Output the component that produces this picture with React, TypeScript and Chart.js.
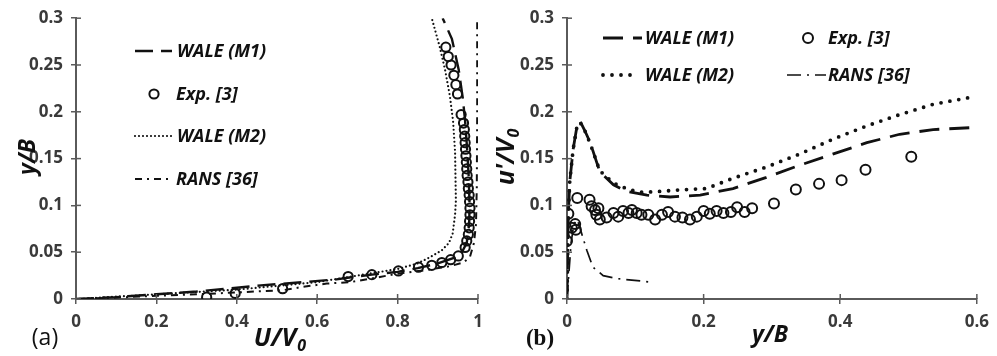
import React, { useEffect, useRef } from 'react';
import { Chart, registerables } from 'chart.js';
Chart.register(...registerables);

// ---------- Panel (a): U/V0 vs y/B ----------
const aXTicks = [0, 0.2, 0.4, 0.6, 0.8, 1];
const aXTickLabels = ['0', '0.2', '0.4', '0.6', '0.8', '1'];
const aYTicks = [0, 0.05, 0.1, 0.15, 0.2, 0.25, 0.3];
const aYTickLabels = ['0', '0.05', '0.1', '0.15', '0.2', '0.25', '0.3'];

const aM1U = [0, 0.1, 0.2, 0.3, 0.4, 0.46, 0.565, 0.648, 0.68, 0.736, 0.8, 0.85, 0.9, 0.94, 0.96, 0.972, 0.978, 0.979, 0.977, 0.973, 0.968, 0.962, 0.952, 0.935, 0.912];
const aM1Y = [0, 0.002, 0.005, 0.008, 0.012, 0.0145, 0.018, 0.021, 0.023, 0.026, 0.029, 0.033, 0.038, 0.044, 0.05, 0.06, 0.08, 0.1, 0.13, 0.16, 0.19, 0.215, 0.245, 0.278, 0.3];

const aExpU = [0.325, 0.396, 0.514, 0.677, 0.736, 0.802, 0.852, 0.885, 0.91, 0.932, 0.951, 0.968, 0.972, 0.976, 0.978, 0.979, 0.98, 0.98, 0.979, 0.978, 0.976, 0.975, 0.973, 0.972, 0.971, 0.97, 0.969, 0.968, 0.967, 0.966, 0.964, 0.958, 0.949, 0.945, 0.94, 0.933, 0.926, 0.92];
const aExpY = [0.002, 0.006, 0.011, 0.024, 0.026, 0.03, 0.034, 0.036, 0.039, 0.042, 0.046, 0.055, 0.062, 0.069, 0.076, 0.083, 0.09, 0.097, 0.104, 0.111, 0.118, 0.125, 0.132, 0.139, 0.146, 0.153, 0.16, 0.167, 0.174, 0.181, 0.188, 0.197, 0.219, 0.229, 0.239, 0.25, 0.259, 0.269];

const aM2U = [0, 0.2, 0.4, 0.6, 0.7, 0.8, 0.85, 0.88, 0.91, 0.928, 0.937, 0.943, 0.945, 0.944, 0.943, 0.938, 0.93, 0.918, 0.905, 0.885];
const aM2Y = [0, 0.005, 0.01, 0.018, 0.025, 0.032, 0.038, 0.0445, 0.052, 0.06, 0.07, 0.09, 0.105, 0.13, 0.157, 0.19, 0.217, 0.245, 0.269, 0.3];

const aRansU = [0, 0.1, 0.2, 0.3, 0.4, 0.516, 0.565, 0.624, 0.682, 0.756, 0.798, 0.872, 0.93, 0.964, 0.98, 0.99, 0.995, 0.997, 0.998, 0.998];
const aRansY = [0, 0.0015, 0.0035, 0.005, 0.007, 0.0095, 0.013, 0.0165, 0.018, 0.0235, 0.027, 0.031, 0.035, 0.039, 0.045, 0.06, 0.08, 0.12, 0.2, 0.3];

// ---------- Panel (b): y/B vs u'/V0 ----------
const bXTicks = [0, 0.2, 0.4, 0.6];
const bXTickLabels = ['0', '0.2', '0.4', '0.6'];
const bYTicks = [0, 0.05, 0.1, 0.15, 0.2, 0.25, 0.3];
const bYTickLabels = ['0', '0.05', '0.1', '0.15', '0.2', '0.25', '0.3'];

const bM1X = [0, 0.001, 0.002, 0.004, 0.009, 0.014, 0.019, 0.026, 0.034, 0.048, 0.068, 0.087, 0.117, 0.151, 0.195, 0.243, 0.292, 0.341, 0.39, 0.439, 0.487, 0.536, 0.59];
const bM1Y = [0, 0.05, 0.09, 0.125, 0.16, 0.182, 0.19, 0.18, 0.167, 0.136, 0.122, 0.115, 0.111, 0.109, 0.111, 0.118, 0.13, 0.143, 0.155, 0.167, 0.176, 0.181, 0.183];

const bExpX = [0.0, 0.002, 0.007, 0.012, 0.013, 0.015, 0.033, 0.036, 0.041, 0.043, 0.046, 0.048, 0.058, 0.068, 0.075, 0.082, 0.09, 0.095, 0.102, 0.109, 0.119, 0.129, 0.139, 0.148, 0.158, 0.169, 0.18, 0.19, 0.2, 0.209, 0.219, 0.229, 0.24, 0.249, 0.26, 0.271, 0.303, 0.335, 0.369, 0.402, 0.437, 0.504];
const bExpY = [0.062, 0.091, 0.076, 0.08, 0.074, 0.108, 0.106, 0.099, 0.095, 0.09, 0.097, 0.085, 0.087, 0.092, 0.088, 0.094, 0.092, 0.095, 0.092, 0.09, 0.09, 0.085, 0.09, 0.093, 0.088, 0.087, 0.085, 0.088, 0.094, 0.091, 0.094, 0.092, 0.093, 0.098, 0.093, 0.097, 0.102, 0.117, 0.123, 0.127, 0.138, 0.152];

const bM2X = [0, 0.001, 0.002, 0.004, 0.009, 0.014, 0.019, 0.026, 0.034, 0.048, 0.068, 0.09, 0.11, 0.131, 0.165, 0.204, 0.243, 0.292, 0.341, 0.39, 0.439, 0.487, 0.536, 0.595];
const bM2Y = [0, 0.05, 0.09, 0.125, 0.16, 0.182, 0.189, 0.18, 0.166, 0.137, 0.124, 0.117, 0.114, 0.1147, 0.1165, 0.118, 0.129, 0.141, 0.155, 0.171, 0.185, 0.197, 0.208, 0.216];

const bRansX = [0, 0.003, 0.006, 0.01, 0.015, 0.019, 0.029, 0.038, 0.053, 0.073, 0.107, 0.124];
const bRansY = [0, 0.03, 0.06, 0.08, 0.085, 0.076, 0.052, 0.034, 0.025, 0.0218, 0.0193, 0.018];

const seriesLabels = ['WALE (M1)', 'Exp. [3]', 'WALE (M2)', 'RANS [36]'];

// ---------- styling ----------
const AXIS = '#5a5a5a';
const TICK_TXT = '#3a3a3a';
const INK = '#111111';
const FONT = '"Open Sans", "Liberation Sans", sans-serif';

const zip = (xs: number[], ys: number[]) => xs.map((x, i) => ({ x, y: ys[i] }));

type LegendItem = { ds: number; kind: 'line' | 'point'; x0: number; x1?: number; y: number; tx: number };
type TitleSpec = { main: string; sub?: string; x: number; y: number; size: number; rotate?: boolean; font?: string; italic?: boolean; bold?: boolean };

function drawTitle(ctx: CanvasRenderingContext2D, t: TitleSpec) {
  const fam = t.font || FONT;
  const style = (t.italic === false ? '' : 'italic ') + (t.bold === false ? 'normal ' : 'bold ');
  const mainFont = style + t.size + 'px ' + fam;
  const subSize = Math.round(t.size * 0.62);
  const subFont = style + subSize + 'px ' + fam;
  ctx.save();
  ctx.translate(t.x, t.y);
  if (t.rotate) ctx.rotate(-Math.PI / 2);
  ctx.fillStyle = INK;
  ctx.textBaseline = 'alphabetic';
  const base = t.size * 0.36;
  ctx.font = mainFont;
  if (!t.sub) {
    ctx.textAlign = 'center';
    ctx.fillText(t.main, 0, base);
  } else {
    const w1 = ctx.measureText(t.main).width;
    ctx.font = subFont;
    const w2 = ctx.measureText(t.sub).width + 1;
    const total = w1 + w2;
    ctx.textAlign = 'left';
    ctx.font = mainFont;
    ctx.fillText(t.main, -total / 2, base);
    ctx.font = subFont;
    ctx.fillText(t.sub, -total / 2 + w1 + 1, base + t.size * 0.2);
  }
  ctx.restore();
}

const decorPlugin = {
  id: 'decor',
  afterDraw(chart: any, _args: any, opts: any) {
    const ctx: CanvasRenderingContext2D = chart.ctx;
    const xs = chart.scales.x;
    const ys = chart.scales.y;
    ctx.save();
    // inner halves of the tick marks (ticks cross the axes)
    ctx.strokeStyle = AXIS;
    ctx.lineWidth = 1.5;
    xs.ticks.forEach((t: any) => {
      const px = xs.getPixelForValue(t.value);
      ctx.beginPath(); ctx.moveTo(px, xs.top); ctx.lineTo(px, xs.top - 5); ctx.stroke();
    });
    ys.ticks.forEach((t: any) => {
      const py = ys.getPixelForValue(t.value);
      ctx.beginPath(); ctx.moveTo(ys.right, py); ctx.lineTo(ys.right + 5, py); ctx.stroke();
    });
    // legend
    (opts.legend as LegendItem[]).forEach((item) => {
      const ds = chart.data.datasets[item.ds];
      ctx.save();
      if (item.kind === 'line') {
        ctx.strokeStyle = ds.borderColor;
        ctx.lineWidth = ds.borderWidth;
        ctx.setLineDash(ds.borderDash || []);
        ctx.lineCap = ds.borderCapStyle || 'butt';
        ctx.beginPath(); ctx.moveTo(item.x0, item.y); ctx.lineTo(item.x1 as number, item.y); ctx.stroke();
      } else {
        ctx.strokeStyle = ds.pointBorderColor;
        ctx.lineWidth = ds.pointBorderWidth;
        ctx.beginPath(); ctx.arc(item.x0, item.y, ds.pointRadius, 0, Math.PI * 2); ctx.stroke();
      }
      ctx.restore();
      ctx.fillStyle = INK;
      ctx.font = 'italic bold 18px ' + FONT;
      ctx.textBaseline = 'middle';
      ctx.textAlign = 'left';
      ctx.fillText(ds.label, item.tx, item.y + 1);
    });
    (opts.titles as TitleSpec[]).forEach((t) => drawTitle(ctx, t));
    ctx.restore();
  },
};

function makeScale(min: number, max: number, tickVals: number[], tickLabels: string[], fixed: { w?: number; h?: number }) {
  return {
    type: 'linear',
    min,
    max,
    afterBuildTicks: (s: any) => { s.ticks = tickVals.map((v) => ({ value: v })); },
    afterFit: (s: any) => {
      if (fixed.w !== undefined) s.width = fixed.w;
      if (fixed.h !== undefined) s.height = fixed.h;
    },
    grid: { display: true, drawOnChartArea: false, drawTicks: true, tickLength: 5, color: AXIS, lineWidth: 1.5 },
    border: { display: true, color: AXIS, width: 2 },
    ticks: {
      color: TICK_TXT,
      font: { family: FONT, size: 17, weight: 'bold' },
      padding: 8,
      maxRotation: 0,
      autoSkip: false,
      callback: (v: number) => {
        const i = tickVals.findIndex((t) => Math.abs(t - v) < 1e-9);
        return i >= 0 ? tickLabels[i] : '';
      },
    },
  };
}

function lineDs(label: string, data: any[], width: number, dash: number[], cap: string = 'butt') {
  return {
    label, data, showLine: true, borderColor: INK, backgroundColor: INK, borderWidth: width,
    borderDash: dash, borderCapStyle: cap, pointRadius: 0, pointHoverRadius: 0, tension: 0, fill: false,
  };
}
function pointDs(label: string, data: any[], r: number, bw: number) {
  return {
    label, data, showLine: false, pointRadius: r, pointBorderWidth: bw, pointBorderColor: INK,
    pointBackgroundColor: 'rgba(0,0,0,0)', borderColor: INK, backgroundColor: 'rgba(0,0,0,0)', pointHoverRadius: r,
  };
}

const LEFT_W = 497;
const RIGHT_X = 488;
const RIGHT_W = 997 - RIGHT_X;
const H = 356;

export default function App() {
  const refA = useRef<HTMLCanvasElement>(null);
  const refB = useRef<HTMLCanvasElement>(null);

  useEffect(() => {
    document.body.style.margin = '0';
    const chartA = new Chart(refA.current as HTMLCanvasElement, {
      type: 'scatter',
      data: {
        datasets: [
          pointDs(seriesLabels[1], zip(aExpU, aExpY), 4.6, 2),
          lineDs(seriesLabels[0], zip(aM1U, aM1Y), 2.4, [18, 8]),
          lineDs(seriesLabels[2], zip(aM2U, aM2Y), 2.2, [0, 4], 'round'),
          lineDs(seriesLabels[3], zip(aRansU, aRansY), 2, [7, 5, 2, 5]),
        ],
      } as any,
      options: {
        responsive: false,
        animation: false,
        events: [],
        layout: { padding: { left: 0, right: LEFT_W - 478, top: 14, bottom: 0 } },
        plugins: {
          legend: { display: false },
          tooltip: { enabled: false },
          decor: {
            legend: [
              { ds: 1, kind: 'line', x0: 135, x1: 172, y: 51, tx: 177 },
              { ds: 0, kind: 'point', x0: 154, y: 94, tx: 176 },
              { ds: 2, kind: 'line', x0: 135, x1: 172, y: 136, tx: 177 },
              { ds: 3, kind: 'line', x0: 135, x1: 168, y: 179, tx: 176 },
            ],
            titles: [
              { main: 'U/V', sub: '0', x: 280, y: 337, size: 25 },
              { main: 'y/B', x: 27, y: 157, size: 23, rotate: true },
              { main: '(a)', x: 45, y: 337, size: 23, italic: false, bold: false },
            ],
          },
        } as any,
        scales: {
          x: makeScale(0, 1, aXTicks, aXTickLabels, { h: H - 299 }),
          y: makeScale(0, 0.3, aYTicks, aYTickLabels, { w: 76 }),
        } as any,
      },
      plugins: [decorPlugin as any],
    });

    const chartB = new Chart(refB.current as HTMLCanvasElement, {
      type: 'scatter',
      data: {
        datasets: [
          pointDs(seriesLabels[1], zip(bExpX, bExpY), 5, 2),
          lineDs(seriesLabels[0], zip(bM1X, bM1Y), 2.8, [20, 10]),
          lineDs(seriesLabels[2], zip(bM2X, bM2Y), 3.8, [0, 9], 'round'),
          lineDs(seriesLabels[3], zip(bRansX, bRansY), 1.7, [14, 6, 2, 6]),
        ],
      } as any,
      options: {
        responsive: false,
        animation: false,
        events: [],
        layout: { padding: { left: 0, right: RIGHT_W - (977 - RIGHT_X), top: 14, bottom: 0 } },
        plugins: {
          legend: { display: false },
          tooltip: { enabled: false },
          decor: {
            legend: [
              { ds: 1, kind: 'line', x0: 603 - RIGHT_X, x1: 642 - RIGHT_X, y: 38, tx: 645 - RIGHT_X },
              { ds: 0, kind: 'point', x0: 808 - RIGHT_X, y: 38, tx: 828 - RIGHT_X },
              { ds: 2, kind: 'line', x0: 603 - RIGHT_X, x1: 634 - RIGHT_X, y: 75, tx: 645 - RIGHT_X },
              { ds: 3, kind: 'line', x0: 787 - RIGHT_X, x1: 826 - RIGHT_X, y: 75, tx: 828 - RIGHT_X },
            ],
            titles: [
              { main: 'y/B', x: 770 - RIGHT_X, y: 334, size: 23 },
              { main: "u'/V", sub: '0', x: 505 - RIGHT_X, y: 157, size: 25, rotate: true },
              { main: '(b)', x: 540 - RIGHT_X, y: 337, size: 23, italic: false, bold: true, font: '"Liberation Serif", serif' },
            ],
          },
        } as any,
        scales: {
          x: makeScale(0, 0.6, bXTicks, bXTickLabels, { h: H - 299 }),
          y: makeScale(0, 0.3, bYTicks, bYTickLabels, { w: 567 - RIGHT_X }),
        } as any,
      },
      plugins: [decorPlugin as any],
    });

    return () => { chartA.destroy(); chartB.destroy(); };
  }, []);

  return (
    <div style={{ position: 'relative', width: 997, height: H, background: '#fff', overflow: 'hidden' }}>
      <canvas ref={refA} width={LEFT_W} height={H} style={{ position: 'absolute', left: 0, top: 0 }} />
      <canvas ref={refB} width={RIGHT_W} height={H} style={{ position: 'absolute', left: RIGHT_X, top: 0 }} />
    </div>
  );
}
